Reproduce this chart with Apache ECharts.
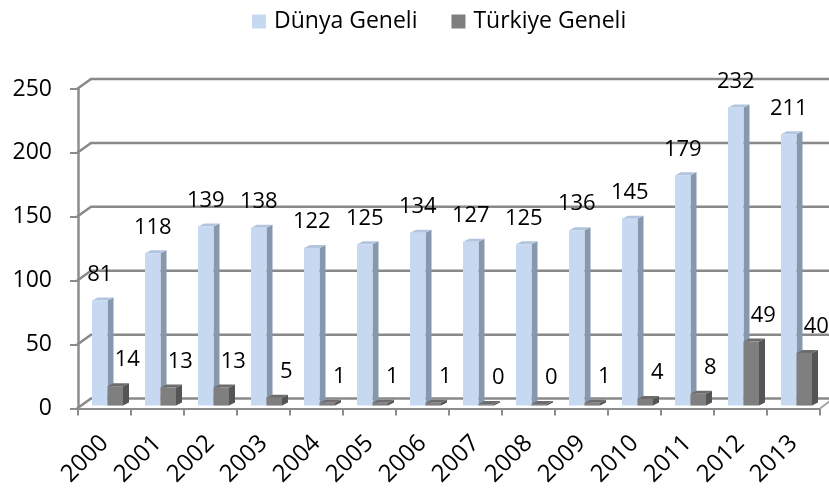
<!DOCTYPE html>
<html>
<head>
<meta charset="utf-8">
<script src="https://cdn.jsdelivr.net/npm/echarts@6/dist/echarts.min.js"></script>
<style>
html,body{margin:0;padding:0;background:#fff;}
#chart{width:829px;height:489px;}
</style>
</head>
<body>
<div id="chart"></div>
<script>
const categories = ['2000','2001','2002','2003','2004','2005','2006','2007','2008','2009','2010','2011','2012','2013'];
const dunya = [81,118,139,138,122,125,134,127,125,136,145,179,232,211];
const turkiye = [14,13,13,5,1,1,1,0,0,1,4,8,49,40];
const yTicks = [0,50,100,150,200,250];
const seriesNames = ['Dünya Geneli','Türkiye Geneli'];

const FONT = '"Open Sans", "Noto Sans", sans-serif';
const palettes = [
  {front:'#c6d9f0', top:'#b2c5df', side:'#8797ae'},
  {front:'#7f7f7f', top:'#6c6c6c', side:'#555555'}
];

function makeBarRender(s){
  return function(params, api){
    const idx = api.value(0), v = api.value(1);
    const base = api.coord([idx, 0]);
    const top = api.coord([idx, v]);
    const cw = api.size([1,0])[0];
    const w = 15.5, dx = 6, dy = 3, lift = 4.5;
    const x0 = base[0] - cw/2 + 14 + s*w;
    const yb = base[1] - 3;
    const yt = Math.min(top[1] - lift, yb - 1.5);
    const p = palettes[s];
    const lblX = x0 + w/2 + (s === 1 ? 12 : 0);
    return {
      type:'group',
      children:[
        {type:'polygon', shape:{points:[[x0+w,yt],[x0+w+dx,yt-dy],[x0+w+dx,yb-dy],[x0+w,yb]]}, style:{fill:p.side}},
        {type:'polygon', shape:{points:[[x0,yt],[x0+dx,yt-dy],[x0+w+dx,yt-dy],[x0+w,yt]]}, style:{fill:p.top}},
        {type:'rect', shape:{x:x0, y:yt, width:w, height:yb-yt}, style:{fill:p.front}},
        {type:'text', x:lblX, y:yt-15, style:{text:String(v), fill:'#000', font:'22px ' + FONT, align:'center', verticalAlign:'bottom'}}
      ]
    };
  };
}

function wallRender(params, api){
  const v = api.value(0);
  const cs = params.coordSys;
  const p = api.coord([0, v]);
  const left = cs.x, right = cs.x + cs.width;
  const y = p[1];
  const ox = 13, oy = 10;
  const children = [
    {type:'polyline', shape:{points:[[left-1,y],[left+ox,y-oy],[right+ox+20,y-oy]]}, style:{stroke:'#898989', lineWidth:2.5, fill:null}}
  ];
  if (v === 0) {
    children.push({type:'line', shape:{x1:right, y1:y, x2:right+ox, y2:y-oy}, style:{stroke:'#a6a6a6', lineWidth:2}});
  }
  return {type:'group', children};
}

const chart = echarts.init(document.getElementById('chart'), null, {renderer:'canvas'});
chart.setOption({
  animation:false,
  backgroundColor:'#fff',
  textStyle:{fontFamily:FONT},
  legend:{
    top:5, left:247, itemGap:34, itemWidth:14, itemHeight:14,
    icon:'rect',
    textStyle:{fontSize:23, color:'#000', fontFamily:FONT, padding:[0,0,0,3]},
    data:seriesNames
  },
  grid:{left:78, right:9, top:89, bottom:79, containLabel:false},
  xAxis:{
    type:'category', data:categories, boundaryGap:true,
    axisLine:{show:true, lineStyle:{color:'#8c8c8c', width:2}},
    axisTick:{show:true, length:7, interval:0, lineStyle:{color:'#8c8c8c', width:2}},
    axisLabel:{rotate:45, interval:0, fontSize:24, color:'#000', margin:31, fontFamily:FONT},
    splitLine:{show:false}
  },
  yAxis:{
    type:'value', min:0, max:250, interval:50,
    axisLine:{show:true, lineStyle:{color:'#8c8c8c', width:2.5}},
    axisTick:{show:true, length:8, lineStyle:{color:'#8c8c8c', width:2}},
    axisLabel:{fontSize:23, color:'#000', margin:26, fontFamily:FONT},
    splitLine:{show:false}
  },
  series:[
    {
      type:'custom', name:'wall', silent:true, clip:false, z:1,
      renderItem:wallRender,
      data:yTicks.map(v=>[v]),
      encode:{y:0}
    },
    {
      type:'custom', name:seriesNames[0], clip:false, z:3,
      itemStyle:{color:palettes[0].front},
      renderItem:makeBarRender(0),
      data:dunya.map((v,i)=>[i,v]),
      encode:{x:0, y:1}
    },
    {
      type:'custom', name:seriesNames[1], clip:false, z:4,
      itemStyle:{color:palettes[1].front},
      renderItem:makeBarRender(1),
      data:turkiye.map((v,i)=>[i,v]),
      encode:{x:0, y:1}
    }
  ]
});
</script>
</body>
</html>
